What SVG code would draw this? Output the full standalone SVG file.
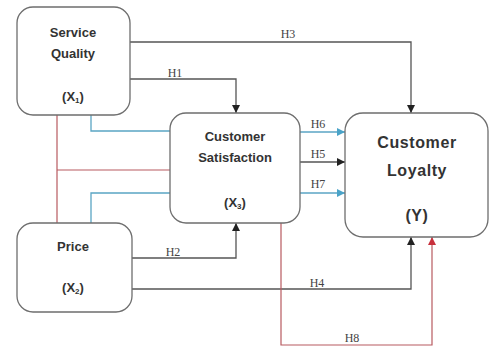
<svg xmlns="http://www.w3.org/2000/svg" width="490" height="347" viewBox="0 0 490 347">
<style>
.box{fill:#fff;stroke:#6e6e6e;stroke-width:1.3}
.t{font-family:"Liberation Sans",Arial,sans-serif;font-weight:bold;font-size:13px;fill:#333;text-anchor:middle}
.tl{font-size:16px;letter-spacing:0.6px}
.lab{font-family:"Liberation Serif","Times New Roman",serif;font-size:12px;fill:#444;text-anchor:middle}
.k{fill:none;stroke:#555;stroke-width:1.3}
.b{fill:none;stroke:#5aa5c4;stroke-width:1.3}
.r{fill:none;stroke:#b85a60;stroke-width:1.2}
</style>
<defs>
<marker id="ak" markerUnits="userSpaceOnUse" markerWidth="9" markerHeight="9" refX="8" refY="4" orient="auto"><path d="M0,0 L8,4 L0,8 z" fill="#222"/></marker>
<marker id="ab" markerUnits="userSpaceOnUse" markerWidth="9" markerHeight="9" refX="8" refY="4" orient="auto"><path d="M0,0 L8,4 L0,8 z" fill="#4aa3c8"/></marker>
<marker id="ar" markerUnits="userSpaceOnUse" markerWidth="9" markerHeight="9" refX="8" refY="4" orient="auto"><path d="M0,0 L8,4 L0,8 z" fill="#c8303c"/></marker>
</defs>
<g id="connectors">
<path class="r" d="M57,115 V223 M57,170 H170"/>
<path class="b" d="M91,115 V131 H170"/>
<path class="b" d="M91,223 V193 H170"/>
<path class="k" d="M130,42 H411 V113" marker-end="url(#ak)"/>
<path class="k" d="M130,79 H236 V113" marker-end="url(#ak)"/>
<path class="k" d="M132,258 H236 V223" marker-end="url(#ak)"/>
<path class="k" d="M132,289 H411 V237" marker-end="url(#ak)"/>
<path class="b" d="M300,132 H345" marker-end="url(#ab)"/>
<path class="k" d="M300,162 H345" marker-end="url(#ak)"/>
<path class="b" d="M300,193 H345" marker-end="url(#ab)"/>
<path class="r" d="M281,223 V345 H432 V237" marker-end="url(#ar)"/>
<text class="lab" x="175" y="77">H1</text>
<text class="lab" x="288" y="38">H3</text>
<text class="lab" x="318" y="128">H6</text>
<text class="lab" x="318" y="158">H5</text>
<text class="lab" x="318" y="188">H7</text>
<text class="lab" x="173" y="256">H2</text>
<text class="lab" x="317" y="287">H4</text>
<text class="lab" x="352" y="342">H8</text>
</g>
<g id="service-quality">
<rect class="box" x="17" y="7" width="113" height="108" rx="16"/>
<text class="t" x="73" y="37">Service</text>
<text class="t" x="73" y="58">Quality</text>
<text class="t" x="73" y="101">(X<tspan font-size="8" dy="2">1</tspan><tspan dy="-2">)</tspan></text>
</g>
<g id="customer-satisfaction">
<rect class="box" x="170" y="113" width="130" height="110" rx="16"/>
<text class="t" x="235" y="141">Customer</text>
<text class="t" x="235" y="162">Satisfaction</text>
<text class="t" x="235" y="207">(X<tspan font-size="8" dy="2">3</tspan><tspan dy="-2">)</tspan></text>
</g>
<g id="customer-loyalty">
<rect class="box" x="345" y="113" width="143" height="124" rx="18"/>
<text class="t tl" x="417" y="148">Customer</text>
<text class="t tl" x="417" y="176">Loyalty</text>
<text class="t tl" x="417" y="221">(Y)</text>
</g>
<g id="price">
<rect class="box" x="17" y="223" width="115" height="89" rx="16"/>
<text class="t" x="73" y="251">Price</text>
<text class="t" x="73" y="292">(X<tspan font-size="8" dy="2">2</tspan><tspan dy="-2">)</tspan></text>
</g>
</svg>
